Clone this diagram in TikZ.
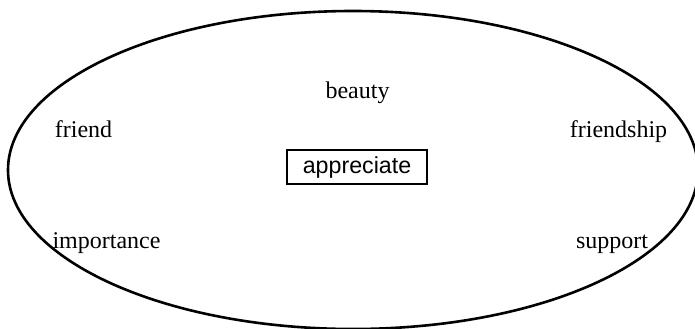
\documentclass[tikz,border=0pt]{standalone}
\usepackage{fontspec}
\setmainfont{Liberation Serif}
\setsansfont{Liberation Sans}

\begin{document}
\begin{tikzpicture}[x=0.5pt, y=0.5pt, line width=1.3pt, font=\fontsize{12}{14}\selectfont,
  word/.style={anchor=base, inner sep=0pt},
  keyword/.style={draw, line width=1.2pt, font=\sffamily\fontsize{11.6}{14}\selectfont,
    minimum width=70pt, minimum height=17pt, inner sep=0pt}]
  \useasboundingbox (0,0) rectangle (695,328);
  % outer ellipse
  \draw (353,158) ellipse [x radius=172.5pt, y radius=79.5pt];
  % centre word
  \node[keyword] (appreciate) at (357,161) {appreciate};
  % surrounding words
  \node[word] (beauty) at (357.5,230) {beauty};
  \node[word] (friend) at (83.5,191) {friend};
  \node[word] (friendship) at (618.5,191) {friendship};
  \node[word] (importance) at (106.5,80) {importance};
  \node[word] (support) at (612,80) {support};
\end{tikzpicture}
\end{document}
